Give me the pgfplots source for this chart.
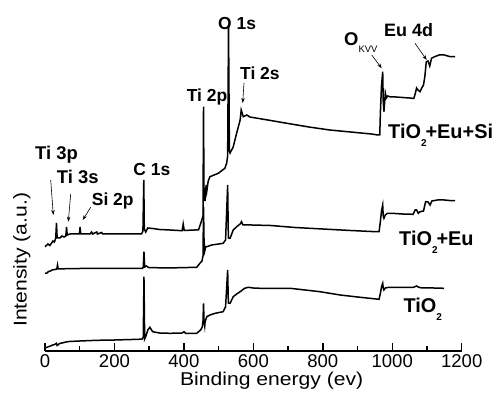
\documentclass[border=0pt]{standalone}
\usepackage{fontspec}
\setmainfont{Liberation Sans}
\usepackage{pgfplots}
\pgfplotsset{compat=1.18}
\usetikzlibrary{arrows.meta}
\newcommand{\subtwo}{\makebox[4.5bp][l]{\raisebox{-8bp}{\fontsize{10}{10}\selectfont\bfseries 2}}}
\begin{document}
\begin{tikzpicture}
\path[use as bounding box] (0,0) rectangle (495bp,397bp);
\begin{axis}[
  at={(45bp,46bp)}, anchor=south west,
  scale only axis, width=416.7bp, height=351bp,
  xmin=0, xmax=1200, ymin=0, ymax=351,
  axis x line*=bottom, axis y line=none,
  clip=false,
  xtick={0,200,400,600,800,1000,1200},
  xticklabels={0,200,400,600,800,1000,1200},
  minor x tick num=1,
  tick align=inside,
  major tick length=8bp, minor tick length=5bp,
  every tick/.style={black, line width=1.4bp},
  axis line style={line width=1.8bp},
  xticklabel style={anchor=base, yshift=-16.5bp, inner sep=0pt, font=\fontsize{18.6}{20}\selectfont},
  xlabel={\scalebox{1.14}[1]{Binding energy (ev)}},
  xlabel style={at={(axis description cs:0.544,0)}, anchor=base, yshift=-34.5bp, inner sep=0pt, font=\fontsize{18.6}{20}\selectfont},
]
% TiO2+Eu+Si
\addplot[black, line width=1.5bp] coordinates {
(0,104.3) (8.6,107) (14,105.5) (19,108) (23,110) (27,109) (31,113) (33,128) (35,113) (43,113) (49,115) (55,114) (60,115) (62,124) (64,116) (72,117) (95,117) (99,117) (101,124) (103,117) (130,117) (134,119) (137,117) (149,119) (151,117) (163,118.5) (166,117) (278,117) (282,120) (284.5,171) (286,122) (290,119) (296,123) (310,122.5) (330,121.5) (360,121) (395,120.3) (398,127) (401,120.5) (430,121) (442,121) (451,130.3) (455,135) (456.5,244.3) (458,150) (460,163) (461,150) (462.5,157.7) (464,166) (466,160) (470,170) (475,174.3) (499,177.7) (518,182.7) (523,187.7) (526,195) (528.5,326) (531,200) (533,198) (542,204) (552,218) (562,231) (565,241) (571,234.3) (581,236) (590,234) (650,230.5) (700,227.5) (760,224) (820,221) (880,219) (940,217) (958,216) (964,216) (966,240) (969,265) (972.5,279.3) (974,250) (976,239.3) (978,248) (980,258) (983,253) (987,255) (995,254) (1010,254) (1030,253.5) (1050,253) (1062,252.5) (1066,257) (1070,263) (1074,261) (1080,259.3) (1085,263) (1090,266) (1094,275) (1098,289.3) (1103,290) (1108,285) (1113,292.7) (1120,294) (1135,296) (1150,296) (1165,294.5) (1181,294.3)
};
% TiO2+Eu
\addplot[black, line width=1.5bp] coordinates {
(0,77.7) (6,78) (10,79.5) (16,80) (20,81) (28,81.5) (34,82) (36,86) (38,82) (45,82) (60,82.3) (100,82.5) (200,82.5) (280,82.5) (283,84) (285,99.3) (287,84) (292,85) (298,83.5) (350,83) (437,83.7) (446,87.7) (452,90) (455,95) (456.5,144) (458,110) (460,100) (463,104.3) (466,104.3) (480,106) (500,107) (513,107.7) (520,111) (526,166) (528,113) (533,112.7) (542,121) (552,124.3) (562,127) (566,129.3) (570,126) (580,126) (595,126) (650,125.5) (720,123.5) (800,122) (880,120.5) (940,119.5) (962,119.3) (966,130) (969,140) (972.5,146) (974,135) (976,132.7) (980,136) (986,137.7) (1000,137.7) (1030,137) (1060,136.7) (1066,141) (1070,141) (1075,137.7) (1080,139.3) (1090,140) (1096,149.3) (1103,149) (1109,146) (1114,150) (1130,151) (1150,151) (1165,150.5) (1181,150.3)
};
% TiO2
\addplot[black, line width=1.5bp] coordinates {
(0,2.7) (4,3.5) (10,4.3) (16,5) (22,6) (28,6.5) (33,7.7) (35,5.5) (42,7.5) (53,8.3) (60,9) (70,9.5) (100,10) (150,10.7) (200,11) (269,11.7) (280,12) (283,14) (285,74.3) (287,12) (290,14.3) (296,21) (302,23.7) (310,19.3) (330,18) (360,17.7) (395,18) (400,19.3) (405,17.7) (437,17.7) (448,21) (453,24) (455,30) (456.5,47.7) (458,30) (460,25) (461,29.3) (466,34.3) (475,36) (490,37.7) (513,39.3) (520,44.3) (526,81) (528,48) (533,47.7) (542,54.3) (552,57) (562,59.3) (575,62.7) (585,63.7) (600,63) (620,62.7) (706,62.7) (792,59.3) (850,56) (900,54) (962,51.7) (966,58) (969,64) (972.5,67.7) (974,63) (976,61) (980,63) (990,63.7) (1010,63.7) (1040,63.5) (1061,63.7) (1070,65) (1075,64) (1080,63.3) (1100,63) (1120,63) (1149,62.7)
};
\end{axis}
\begin{scope}[x=1bp, y=-1bp, shift={(0bp,397bp)}]
\node[rotate=90, anchor=base, inner sep=0pt, font=\fontsize{18.6}{20}\selectfont] at (26.7,259.7) {\scalebox{1.14}[1]{Intensity (a.u.)}};
\begin{scope}[every node/.style={anchor=base west, inner sep=0pt, font=\fontsize{17.5}{19}\selectfont\bfseries}]
\node at (218,29.5) {O 1s};
\node at (186.7,102) {Ti 2p};
\node at (240,80) {Ti 2s};
\node at (133.3,176) {C 1s};
\node[font=\fontsize{18.5}{19}\selectfont\bfseries] at (35,160) {Ti 3p};
\node[font=\fontsize{18.5}{19}\selectfont\bfseries] at (56.7,183.4) {Ti 3s};
\node at (91.7,205.7) {Si 2p};
\node[font=\fontsize{18}{19}\selectfont\bfseries] at (384,37) {Eu 4d};
\node[font=\fontsize{18.5}{19}\selectfont\bfseries] at (344,46) {O\raisebox{-7bp}{\fontsize{9.5}{10}\selectfont\mdseries KVV}};
\node[font=\fontsize{20}{21}\selectfont\bfseries] at (388,139) {TiO\subtwo+Eu+Si};
\node[font=\fontsize{20}{21}\selectfont\bfseries] at (399,246) {TiO\subtwo+Eu};
\node[font=\fontsize{20}{21}\selectfont\bfseries] at (403.3,312.6) {TiO\subtwo};
\end{scope}
\begin{scope}[-{Stealth[length=5bp,width=3.5bp]}, line width=0.6bp]
\draw (50.7,180) -- (53.3,215);
\draw (70.7,194) -- (68.3,221.7);
\draw (90.7,207.3) -- (82.7,220);
\draw (244,83) -- (242.7,103);
\draw (371.7,55) -- (381.7,68.3);
\draw (415,43.3) -- (426.7,60);
\end{scope}
\end{scope}
\end{tikzpicture}
\end{document}
